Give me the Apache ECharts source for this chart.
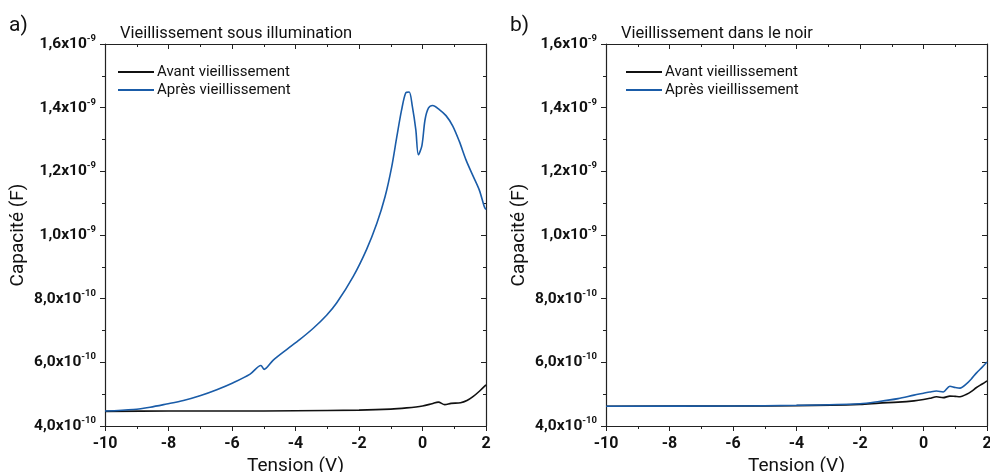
<!DOCTYPE html>
<html><head><meta charset="utf-8">
<script src="https://cdn.jsdelivr.net/npm/echarts@6/dist/echarts.min.js"></script>
<style>html,body{margin:0;padding:0;background:#fff}#c{width:990px;height:472px}</style>
</head><body><div id="c"></div>
<script>
// values in units of 1e-10 F
const xTicks = [-10, -8, -6, -4, -2, 0, 2];
const aBeforeV = [-10, -8, -6, -4, -2, -1, -0.5, 0, 0.3, 0.5, 0.7, 0.9, 1.2, 1.4, 1.6, 1.8, 2.0];
const aBefore  = [4.46, 4.47, 4.47, 4.48, 4.50, 4.53, 4.57, 4.63, 4.70, 4.75, 4.67, 4.71, 4.73, 4.80, 4.93, 5.10, 5.29];
const aAfterV = [-10, -9.11, -8.58, -8.06, -7.53, -7.01, -6.48, -5.96, -5.43, -5.09, -4.99, -4.70, -4.28, -3.86, -3.44, -3.02, -2.70, -2.18, -1.76, -1.44, -1.18, -0.97, -0.81, -0.66, -0.53, -0.42, -0.32, -0.21, -0.13, -0.02, 0.08, 0.19, 0.32, 0.53, 0.74, 0.95, 1.16, 1.37, 1.58, 1.79, 1.95, 2.0];
const aAfter  = [4.47, 4.52, 4.59, 4.69, 4.80, 4.95, 5.14, 5.36, 5.63, 5.90, 5.78, 6.07, 6.40, 6.72, 7.07, 7.48, 7.87, 8.70, 9.55, 10.36, 11.20, 12.14, 13.08, 13.92, 14.46, 14.49, 14.04, 13.3, 12.52, 12.8, 13.62, 13.99, 14.07, 13.94, 13.75, 13.43, 12.94, 12.36, 11.88, 11.41, 10.88, 10.8];
const bBeforeV = [-10, -6, -4, -2, -1.4, -0.8, -0.3, 0, 0.2, 0.41, 0.62, 0.83, 1.0, 1.15, 1.36, 1.5, 1.67, 1.85, 2.0];
const bBefore  = [4.62, 4.63, 4.64, 4.68, 4.72, 4.75, 4.79, 4.83, 4.87, 4.92, 4.89, 4.94, 4.93, 4.92, 5.00, 5.08, 5.21, 5.32, 5.42];
const bAfterV = [-10, -6, -4, -2, -1.4, -0.8, -0.3, 0, 0.2, 0.41, 0.62, 0.83, 1.0, 1.15, 1.36, 1.5, 1.67, 1.85, 2.0];
const bAfter  = [4.62, 4.63, 4.65, 4.70, 4.77, 4.86, 4.97, 5.03, 5.07, 5.10, 5.07, 5.25, 5.21, 5.19, 5.33, 5.47, 5.67, 5.85, 6.01];
const yTickLabels = {4: ['4,0', '-10'], 6: ['6,0', '-10'], 8: ['8,0', '-10'], 10: ['1,0', '-9'], 12: ['1,2', '-9'], 14: ['1,4', '-9'], 16: ['1,6', '-9']};
const titles = ['Vieillissement sous illumination', 'Vieillissement dans le noir'];
const panelTags = ['a)', 'b)'];
const seriesNames = ['Avant vieillissement', 'Après vieillissement'];

const BLUE = '#1a5ca8';
const AX = '#222';
const FONT = 'Roboto';
const chart = echarts.init(document.getElementById('c'), null, {renderer: 'canvas'});

const grids = [
  {left: 105, right: 504, top: 44, bottom: 46, outerBoundsMode: 'none', containLabel: false},
  {left: 606, right: 3, top: 44, bottom: 46, outerBoundsMode: 'none', containLabel: false}
];
function pairs(xs, ys) { return xs.map((x, i) => [x, ys[i]]); }

const xAxes = [], yAxes = [], series = [], graphic = [], legends = [];
grids.forEach((g, i) => {
  xAxes.push({
    gridIndex: i, type: 'value', min: -10, max: 2, interval: 2, position: 'bottom',
    name: 'Tension (V)', nameLocation: 'middle', nameGap: 27,
    nameTextStyle: {fontFamily: FONT, fontSize: 19, color: '#111'},
    axisLine: {show: true, onZero: false, lineStyle: {color: AX, width: 1.2}},
    axisTick: {show: true, length: 5, lineStyle: {color: AX}},
    minorTick: {show: true, splitNumber: 2, length: 3, lineStyle: {color: AX}},
    splitLine: {show: false},
    axisLabel: {fontFamily: FONT, fontSize: 16, fontWeight: 'bold', color: '#111', margin: 10}
  });
  xAxes.push({
    gridIndex: i, type: 'value', min: -10, max: 2, interval: 2, position: 'top',
    axisLine: {show: true, onZero: false, lineStyle: {color: AX, width: 1.2}},
    axisTick: {show: true, inside: true, length: 5, lineStyle: {color: AX}},
    minorTick: {show: true, splitNumber: 2, length: 3, lineStyle: {color: AX}},
    splitLine: {show: false}, axisLabel: {show: false}
  });
  yAxes.push({
    gridIndex: i, type: 'value', min: 4, max: 16, interval: 2, position: 'left',
    name: 'Capacité (F)', nameLocation: 'middle', nameGap: 77,
    nameTextStyle: {fontFamily: FONT, fontSize: 19, color: '#111'},
    axisLine: {show: true, onZero: false, lineStyle: {color: AX, width: 1.2}},
    axisTick: {show: true, length: 5, lineStyle: {color: AX}},
    minorTick: {show: true, splitNumber: 2, length: 3, lineStyle: {color: AX}},
    splitLine: {show: false},
    axisLabel: {
      margin: 9,
      formatter: v => { const t = yTickLabels[Math.round(v)]; return t ? '{m|' + t[0] + 'x10}{s|' + t[1] + '}' : ''; },
      rich: {
        m: {fontFamily: FONT, fontSize: 15.5, fontWeight: 'bold', color: '#111'},
        s: {fontFamily: FONT, fontSize: 9.5, fontWeight: 'bold', color: '#111', padding: [0, 0, 11, 0]}
      }
    }
  });
  yAxes.push({
    gridIndex: i, type: 'value', min: 4, max: 16, interval: 2, position: 'right',
    axisLine: {show: true, onZero: false, lineStyle: {color: AX, width: 1.2}},
    axisTick: {show: true, inside: true, length: 5, lineStyle: {color: AX}},
    minorTick: {show: true, splitNumber: 2, length: 3, lineStyle: {color: AX}},
    splitLine: {show: false}, axisLabel: {show: false}
  });
  graphic.push({type: 'text', left: g.left + 15, top: 25, style: {text: titles[i], font: '16.5px ' + FONT, fill: '#111'}});
  graphic.push({type: 'text', left: i === 0 ? 9 : 510, top: 15, style: {text: panelTags[i], font: '21px ' + FONT, fill: '#111'}});
  legends.push({
    left: i === 0 ? 113 : 621, top: 58, orient: 'vertical', itemWidth: 36, itemHeight: 2, itemGap: 0,
    icon: 'rect',
    textStyle: {fontFamily: FONT, fontSize: 15, color: '#111', lineHeight: 18, padding: [0, 0, 0, -2]},
    data: [seriesNames[0] + (i ? ' ' : ''), seriesNames[1] + (i ? ' ' : '')].map(n => ({name: n}))
  });
});
legends[1].formatter = n => n.trim();

const sets = [[aBeforeV, aBefore, aAfterV, aAfter], [bBeforeV, bBefore, bAfterV, bAfter]];
sets.forEach((s, i) => {
  const sfx = i ? ' ' : '';
  series.push({type: 'line', name: seriesNames[0] + sfx, xAxisIndex: i * 2, yAxisIndex: i * 2, data: pairs(s[0], s[1]),
    symbol: 'none', smooth: 0.3, lineStyle: {color: '#111', width: 1.6}, itemStyle: {color: '#111'}});
  series.push({type: 'line', name: seriesNames[1] + sfx, xAxisIndex: i * 2, yAxisIndex: i * 2, data: pairs(s[2], s[3]),
    symbol: 'none', smooth: 0.3, lineStyle: {color: BLUE, width: 1.6}, itemStyle: {color: BLUE}});
});

chart.setOption({
  animation: false,
  grid: grids,
  xAxis: xAxes,
  yAxis: yAxes,
  legend: legends,
  series: series,
  graphic: graphic
});
</script></body></html>
